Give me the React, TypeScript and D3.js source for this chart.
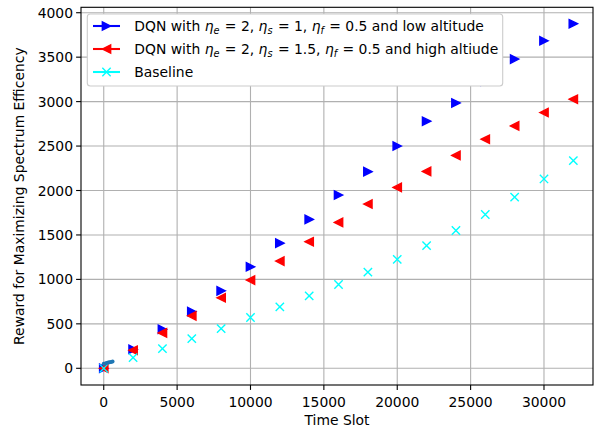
import React from 'react';
import * as d3 from 'd3';

// time slots for the three main series
const timeSlots = [0, 2000, 4000, 6000, 8000, 10000, 12000, 14000, 16000, 18000, 20000, 22000, 24000, 26000, 28000, 30000, 32000];
const lowAltitude = [0, 214, 439, 638, 871, 1142, 1408, 1675, 1949, 2212, 2500, 2780, 2985, 3230, 3478, 3684, 3876];
const highAltitude = [0, 203, 398, 590, 793, 992, 1206, 1424, 1641, 1848, 2035, 2215, 2395, 2577, 2727, 2877, 3027];
const baseline = [0, 120, 222, 334, 447, 571, 691, 815, 943, 1082, 1225, 1380, 1550, 1730, 1925, 2130, 2336];

// small unlabelled trace near the origin
const earlySlots = [0, 100, 200, 300, 400, 500, 600];
const earlyValues = [50, 55, 60, 64, 68, 72, 75];

const xTicks = [0, 5000, 10000, 15000, 20000, 25000, 30000];
const yTicks = [0, 500, 1000, 1500, 2000, 2500, 3000, 3500, 4000];

const W = 600;
const H = 428;
const left = 81, right = 593, top = 7.3, bottom = 385;
const FONT = 'DejaVu Sans, sans-serif';
const FS = 13.9;

const x = d3.scaleLinear().domain([-1550, 33340]).range([left, right]);
const y = d3.scaleLinear().domain([-188, 4061]).range([bottom, top]);

const R = 4.17;
const triRight = `M${R},0L${-R},${-R}L${-R},${R}Z`;
const triLeft = `M${-R},0L${R},${-R}L${R},${R}Z`;
const cross = `M${-R},${-R}L${R},${R}M${-R},${R}L${R},${-R}`;

// mathtext-like  eta_sub =
const Eta = ({ sub }: { sub: string }) => (
  <>
    <tspan fontStyle="italic">η</tspan>
    <tspan fontSize={FS * 0.7} dy={2.5} fontStyle="italic">{sub}</tspan>
    <tspan dy={-2.5} dx={1}>{' = '}</tspan>
    <tspan dx={1}></tspan>
  </>
);

const legendRows = [
  { color: '#0000ff', path: triRight, kind: 'low' },
  { color: '#ff0000', path: triLeft, kind: 'high' },
  { color: '#00ffff', path: cross, kind: 'base' },
];

export default function App() {
  const markers = (vals: number[], path: string, color: string, stroke = false) =>
    timeSlots.map((t, i) => (
      <path
        key={i}
        d={path}
        transform={`translate(${x(t)},${y(vals[i])})`}
        fill={stroke ? 'none' : color}
        stroke={color}
        strokeWidth={1.39}
      />
    ));

  const earlyLine = d3.line<number>().x((d, i) => x(earlySlots[i])).y(d => y(d))(earlyValues) || '';

  return (
    <svg width={W} height={H} style={{ position: 'absolute', left: 0, top: 0, background: '#fff' }} fontFamily={FONT}>
      <rect width={W} height={H} fill="#fff" />
      {/* grid */}
      {xTicks.map(t => (
        <line key={'gx' + t} x1={x(t)} x2={x(t)} y1={top} y2={bottom} stroke="#b0b0b0" strokeWidth={1.1} />
      ))}
      {yTicks.map(t => (
        <line key={'gy' + t} x1={left} x2={right} y1={y(t)} y2={y(t)} stroke="#b0b0b0" strokeWidth={1.1} />
      ))}

      {markers(lowAltitude, triRight, '#0000ff')}
      {markers(highAltitude, triLeft, '#ff0000')}
      {markers(baseline, cross, '#00ffff', true)}

      <path d={earlyLine} fill="none" stroke="#1f77b4" strokeWidth={2.1} strokeLinecap="round" />
      {earlySlots.map((t, i) => (
        <circle key={i} cx={x(t)} cy={y(earlyValues[i])} r={2} fill="#1f77b4" />
      ))}

      {/* spines */}
      <rect x={left} y={top} width={right - left} height={bottom - top} fill="none" stroke="#000" strokeWidth={1.1} />

      {/* x ticks */}
      {xTicks.map(t => (
        <g key={'xt' + t}>
          <line x1={x(t)} x2={x(t)} y1={bottom} y2={bottom + 4.9} stroke="#000" strokeWidth={1.1} />
          <text x={x(t)} y={bottom + 21.5} textAnchor="middle" fontSize={FS} fill="#000">{t}</text>
        </g>
      ))}
      {yTicks.map(t => (
        <g key={'yt' + t}>
          <line x1={left - 4.9} x2={left} y1={y(t)} y2={y(t)} stroke="#000" strokeWidth={1.1} />
          <text x={left - 8} y={y(t) + 5} textAnchor="end" fontSize={FS} fill="#000">{t}</text>
        </g>
      ))}

      <text x={(left + right) / 2} y={425} textAnchor="middle" fontSize={FS} fill="#000">Time Slot</text>
      <text transform={`translate(24,${(top + bottom) / 2}) rotate(-90)`} textAnchor="middle" fontSize={FS} fill="#000">
        Reward for Maximizing Spectrum Efficency
      </text>

      {/* legend */}
      <rect x={87.3} y={14} width={415.4} height={72} rx={3} fill="#fff" stroke="#cccccc" strokeWidth={1.1} />
      {legendRows.map((r, i) => {
        const cy = 26 + i * 23;
        return (
          <g key={r.kind}>
            <line x1={93} x2={120} y1={cy} y2={cy} stroke={r.color} strokeWidth={2.08} />
            <path d={r.path} transform={`translate(106.5,${cy})`} fill={r.kind === 'base' ? 'none' : r.color} stroke={r.color} strokeWidth={1.39} />
            <text x={134.3} y={cy + 5} fontSize={FS} fill="#000">
              {r.kind === 'low' && (
                <>
                  {'DQN with '}<Eta sub="e" />{'2, '}<Eta sub="s" />{'1, '}<Eta sub="f" />{'0.5 and low altitude'}
                </>
              )}
              {r.kind === 'high' && (
                <>
                  {'DQN with '}<Eta sub="e" />{'2, '}<Eta sub="s" />{'1.5, '}<Eta sub="f" />{'0.5 and high altiude'}
                </>
              )}
              {r.kind === 'base' && 'Baseline'}
            </text>
          </g>
        );
      })}
    </svg>
  );
}
